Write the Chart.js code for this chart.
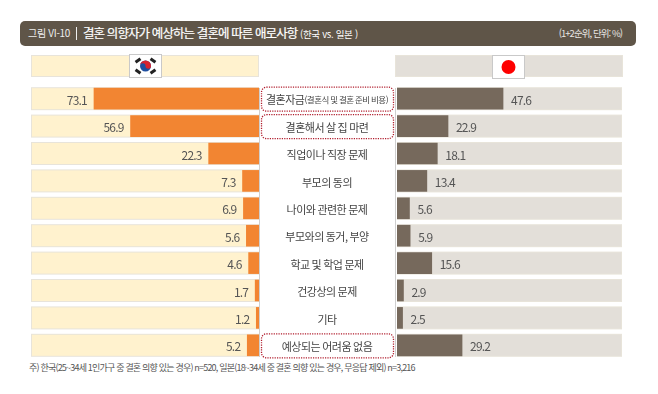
<!DOCTYPE html>
<html lang="ko">
<head>
<meta charset="utf-8">
<title>결혼 의향자가 예상하는 결혼에 따른 애로사항</title>
<script src="https://cdn.jsdelivr.net/npm/chart.js@4"></script>
<style>
  html, body { margin: 0; padding: 0; background: #fff; }
  body { width: 658px; height: 394px; position: relative; overflow: hidden; font-family: "Noto Sans CJK KR", sans-serif; }
  .abs { position: absolute; white-space: nowrap; }
  #bar { left: 20px; top: 21px; width: 616px; height: 25px; background: #5f5548; border-radius: 5px; }
  #fig { left: 28px; top: 25px; font-size: 10px; line-height: 16px; color: #eee; letter-spacing: -0.3px; }
  #sep { left: 76px; top: 27px; width: 1px; height: 13px; background: #eee; }
  #title { left: 83px; top: 24px; font-size: 12.5px; line-height: 18px; color: #fff; letter-spacing: -0.9px; -webkit-text-stroke: 0.2px #fff; }
  #title small { font-size: 9.5px; letter-spacing: -0.3px; -webkit-text-stroke: 0; }
  #unit { right: 36px; top: 25px; font-size: 9.5px; line-height: 16px; color: #e8e6e2; letter-spacing: -0.95px; }
  .head { top: 55px; height: 20px; border: 1px solid #e8e4da; }
  #headKr { left: 31px; width: 226px; background: #fff2ce; }
  #headJp { left: 395px; width: 226px; background: #e3dfd9; }
  .flag { top: 54px; width: 31px; height: 22px; background: #fff; border: 1px solid #c9c9c9; }
  .flag svg { display: block; }
  #flagKr { left: 129px; }
  #flagJp { left: 492px; top: 55px; }
  #panel { left: 259px; top: 88px; width: 135px; height: 269px; border-left: 1px solid #cfcfcf; border-right: 1px solid #cfcfcf; }
  canvas { position: absolute; top: 85px; }
  #chartKr { left: 31px; }
  #chartJp { left: 260px; }
  #note { left: 29px; top: 361px; font-size: 9px; line-height: 14px; color: #555; letter-spacing: -0.8px; }
</style>
</head>
<body>
<div class="abs" id="bar"></div>
<div class="abs" id="fig">그림 VI-10</div>
<div class="abs" id="sep"></div>
<div class="abs" id="title">결혼 의향자가 예상하는 결혼에 따른 애로사항 <small>(한국 vs. 일본 )</small></div>
<div class="abs" id="unit">(1+2순위, 단위: %)</div>

<div class="abs head" id="headKr"></div>
<div class="abs head" id="headJp"></div>
<div class="abs flag" id="flagKr">
  <svg width="31" height="22" viewBox="0 0 31 22">
    <g fill="#222">
      <rect x="5" y="4" width="6" height="3" transform="rotate(-35 8 5.5)"/>
      <rect x="20" y="4" width="6" height="3" transform="rotate(35 23 5.5)"/>
      <rect x="5" y="15" width="6" height="3" transform="rotate(35 8 16.5)"/>
      <rect x="20" y="15" width="6" height="3" transform="rotate(-35 23 16.5)"/>
    </g>
    <circle cx="15.5" cy="11" r="5.5" fill="#1f4fa0"/>
    <path d="M10 11a5.5 5.5 0 0 1 11 0a2.75 2.75 0 0 1-5.5 0a2.75 2.75 0 0 0-5.5 0z" fill="#d8232f"/>
  </svg>
</div>
<div class="abs flag" id="flagJp">
  <svg width="31" height="22" viewBox="0 0 31 22"><circle cx="15.5" cy="11" r="7" fill="#fe0000"/></svg>
</div>
<div class="abs" id="panel"></div>

<canvas id="chartKr" width="228" height="274"></canvas>
<canvas id="chartJp" width="362" height="274"></canvas>

<div class="abs" id="note">주) 한국(25~34세 1인가구 중 결혼 의향 있는 경우) n=520, 일본(18~34세 중 결혼 의향 있는 경우, 무응답 제외) n=3,216</div>

<script>
// 항목
const categories = ['결혼자금', '결혼해서 살 집 마련', '직업이나 직장 문제', '부모의 동의', '나이와 관련한 문제', '부모와의 동거, 부양', '학교 및 학업 문제', '건강상의 문제', '기타', '예상되는 어려움 없음'];
const subLabels = ['(결혼식 및 결혼 준비 비용)', '', '', '', '', '', '', '', '', ''];
const highlighted = ['결혼자금', '결혼해서 살 집 마련', '예상되는 어려움 없음'];

const korea = [73.1, 56.9, 22.3, 7.3, 6.9, 5.6, 4.6, 1.7, 1.2, 5.2];
const japan = [47.6, 22.9, 18.1, 13.4, 5.6, 5.9, 15.6, 2.9, 2.5, 29.2];

const FONT = '"Noto Sans CJK KR", sans-serif';

// 막대 뒤 배경 트랙
const trackPlugin = {
    id: 'track',
    beforeDatasetsDraw(chart, args, opts) {
        const { ctx, chartArea, scales } = chart;
        ctx.save();
        categories.forEach((c, i) => {
            const y = scales.y.getPixelForValue(i);
            ctx.fillStyle = opts.border;
            ctx.fillRect(chartArea.left, y - 11.5, chartArea.width, 23);
            ctx.fillStyle = opts.color;
            ctx.fillRect(chartArea.left + 1, y - 10.5, chartArea.width - 2, 21);
        });
        ctx.restore();
    }
};

// 값 라벨
const valuePlugin = {
    id: 'values',
    afterDatasetsDraw(chart, args, opts) {
        const { ctx, scales } = chart;
        ctx.save();
        ctx.font = '12px ' + FONT;
        ctx.fillStyle = '#555';
        ctx.textBaseline = 'middle';
        ctx.textAlign = opts.side === 'left' ? 'right' : 'left';
        if ('letterSpacing' in ctx) ctx.letterSpacing = '-0.8px';
        chart.data.datasets[0].data.forEach((v, i) => {
            const x = scales.x.getPixelForValue(v) + (opts.side === 'left' ? -7 : 8);
            ctx.fillText(v.toFixed(1), x, scales.y.getPixelForValue(i) + 1.5);
        });
        ctx.restore();
    }
};

// 가운데 항목 라벨과 점선 박스
const centerPlugin = {
    id: 'center',
    afterDraw(chart) {
        const { ctx, scales } = chart;
        const cx = 67;
        ctx.save();
        categories.forEach((c, i) => {
            const y = scales.y.getPixelForValue(i);
            if (highlighted.includes(c)) {
                ctx.beginPath();
                ctx.roundRect(1.5, y - 11.5, 132, 24, 5);
                ctx.strokeStyle = '#b01c2c';
                ctx.lineWidth = 1.3;
                ctx.setLineDash([1.2, 1.2]);
                ctx.stroke();
                ctx.setLineDash([]);
            }
            ctx.fillStyle = '#444';
            ctx.textBaseline = 'middle';
            if ('letterSpacing' in ctx) ctx.letterSpacing = '-0.5px';
            ctx.font = '11px ' + FONT;
            const w1 = ctx.measureText(c).width;
            let w2 = 0;
            if (subLabels[i]) {
                ctx.font = '8.5px ' + FONT;
                w2 = ctx.measureText(subLabels[i]).width;
            }
            const start = cx - (w1 + w2) / 2;
            ctx.textAlign = 'left';
            ctx.font = '11px ' + FONT;
            ctx.fillText(c, start, y + 1.5);
            if (subLabels[i]) {
                ctx.font = '8.5px ' + FONT;
                ctx.fillText(subLabels[i], start + w1, y + 1.5);
            }
        });
        ctx.restore();
    }
};

function barChart(id, values, opts) {
    return new Chart(document.getElementById(id), {
        type: 'bar',
        data: {
            labels: categories,
            datasets: [{ data: values, backgroundColor: opts.color, barThickness: 21 }]
        },
        plugins: opts.plugins,
        options: {
            indexAxis: 'y',
            responsive: false,
            animation: false,
            layout: { padding: opts.padding },
            scales: {
                x: { display: false, min: 0, max: 101, reverse: opts.reverse },
                y: { display: false }
            },
            plugins: {
                legend: { display: false },
                tooltip: { enabled: false },
                track: { color: opts.track, border: opts.trackBorder },
                values: { side: opts.reverse ? 'left' : 'right' }
            }
        }
    });
}

barChart('chartKr', korea, {
    color: '#f28532', track: '#fff2ce', trackBorder: '#e8e4da', reverse: true,
    padding: 0, plugins: [trackPlugin, valuePlugin]
});
barChart('chartJp', japan, {
    color: '#76695c', track: '#e3dfd9', trackBorder: '#e8e4da', reverse: false,
    padding: { left: 137 }, plugins: [trackPlugin, valuePlugin, centerPlugin]
});
</script>
</body>
</html>
